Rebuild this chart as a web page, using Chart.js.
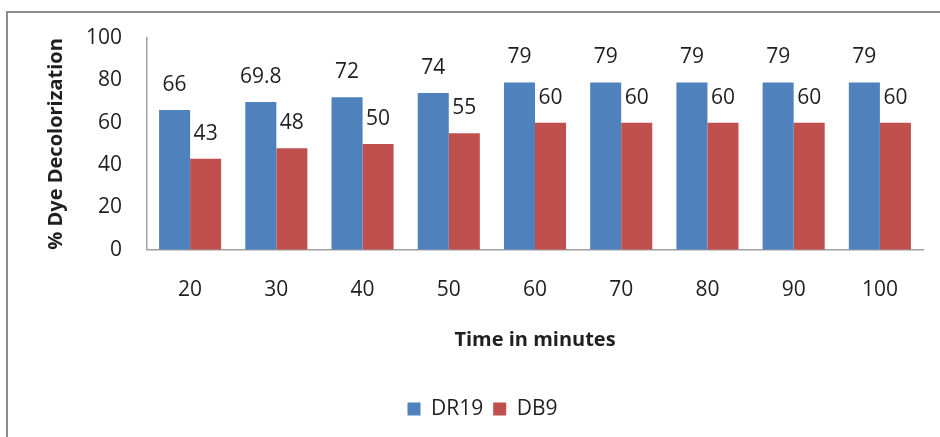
<!DOCTYPE html>
<html>
<head>
<meta charset="utf-8">
<script src="https://cdn.jsdelivr.net/npm/chart.js@4"></script>
<style>
    html, body { margin: 0; padding: 0; background: #fff; overflow: hidden; }
    #wrap { position: relative; width: 940px; height: 437px; overflow: hidden; }
    #frame {
        position: absolute; left: 6px; top: 11px;
        width: 1000px; height: 500px;
        border: 2px solid #8c8c8c;
    }
    #chart { position: absolute; left: 0; top: 0; }
</style>
</head>
<body>
<div id="wrap">
    <div id="frame"></div>
    <canvas id="chart" width="940" height="437"></canvas>
</div>
<script>
// Data
const timeLabels = ['20', '30', '40', '50', '60', '70', '80', '90', '100'];
const dr19Values = [66, 69.8, 72, 74, 79, 79, 79, 79, 79];
const db9Values = [43, 48, 50, 55, 60, 60, 60, 60, 60];

const FONT = "'Open Sans', 'Noto Sans', sans-serif";
const TEXT_COLOR = '#1f1f1f';

// Value labels drawn above each bar
const barValueLabels = {
    id: 'barValueLabels',
    afterDatasetsDraw(chart) {
        const ctx = chart.ctx;
        ctx.save();
        ctx.font = `21px ${FONT}`;
        ctx.fillStyle = TEXT_COLOR;
        ctx.textAlign = 'center';
        ctx.textBaseline = 'middle';
        chart.data.datasets.forEach((ds, i) => {
            const meta = chart.getDatasetMeta(i);
            meta.data.forEach((bar, j) => {
                ctx.fillText(String(ds.data[j]), bar.x, bar.y - 25);
            });
        });
        ctx.restore();
    }
};

// Legend is centred on the full (uncropped) chart frame
const legendShift = {
    id: 'legendShift',
    afterLayout(chart) {
        chart.legend.left += 21;
        chart.legend.right += 21;
    }
};

new Chart(document.getElementById('chart'), {
    type: 'bar',
    data: {
        labels: timeLabels,
        datasets: [{
            label: 'DR19',
            data: dr19Values,
            backgroundColor: '#4f81bd'
        }, {
            label: 'DB9',
            data: db9Values,
            backgroundColor: '#c0504d'
        }]
    },
    options: {
        responsive: false,
        animation: false,
        categoryPercentage: 0.72,
        barPercentage: 1.0,
        layout: {
            padding: { left: 0, right: 17, top: 38, bottom: 7.5 }
        },
        plugins: {
            tooltip: { enabled: false },
            legend: {
                position: 'bottom',
                labels: {
                    boxWidth: 13,
                    boxHeight: 13,
                    padding: 10,
                    color: TEXT_COLOR,
                    font: { family: FONT, size: 21 }
                }
            }
        },
        scales: {
            x: {
                grid: { display: false, drawTicks: false },
                border: { display: true, color: '#a0a0a0', width: 1.5 },
                ticks: {
                    padding: 28,
                    color: TEXT_COLOR,
                    font: { family: FONT, size: 21 }
                },
                title: {
                    display: true,
                    text: 'Time in minutes',
                    color: TEXT_COLOR,
                    font: { family: FONT, size: 20, weight: 'bold' },
                    padding: { top: -3, bottom: 36.5 }
                }
            },
            y: {
                min: 0,
                max: 100,
                grid: { display: false, drawTicks: false },
                border: { display: true, color: '#a0a0a0', width: 1.5 },
                ticks: {
                    stepSize: 20,
                    padding: 25,
                    color: TEXT_COLOR,
                    font: { family: FONT, size: 21 }
                },
                title: {
                    display: true,
                    text: '% Dye Decolorization',
                    color: TEXT_COLOR,
                    font: { family: FONT, size: 20, weight: 'bold' },
                    padding: { top: 44, bottom: 0 }
                },
                afterFit(scale) {
                    scale.width = 147;
                }
            }
        }
    },
    plugins: [barValueLabels, legendShift]
});
</script>
</body>
</html>
